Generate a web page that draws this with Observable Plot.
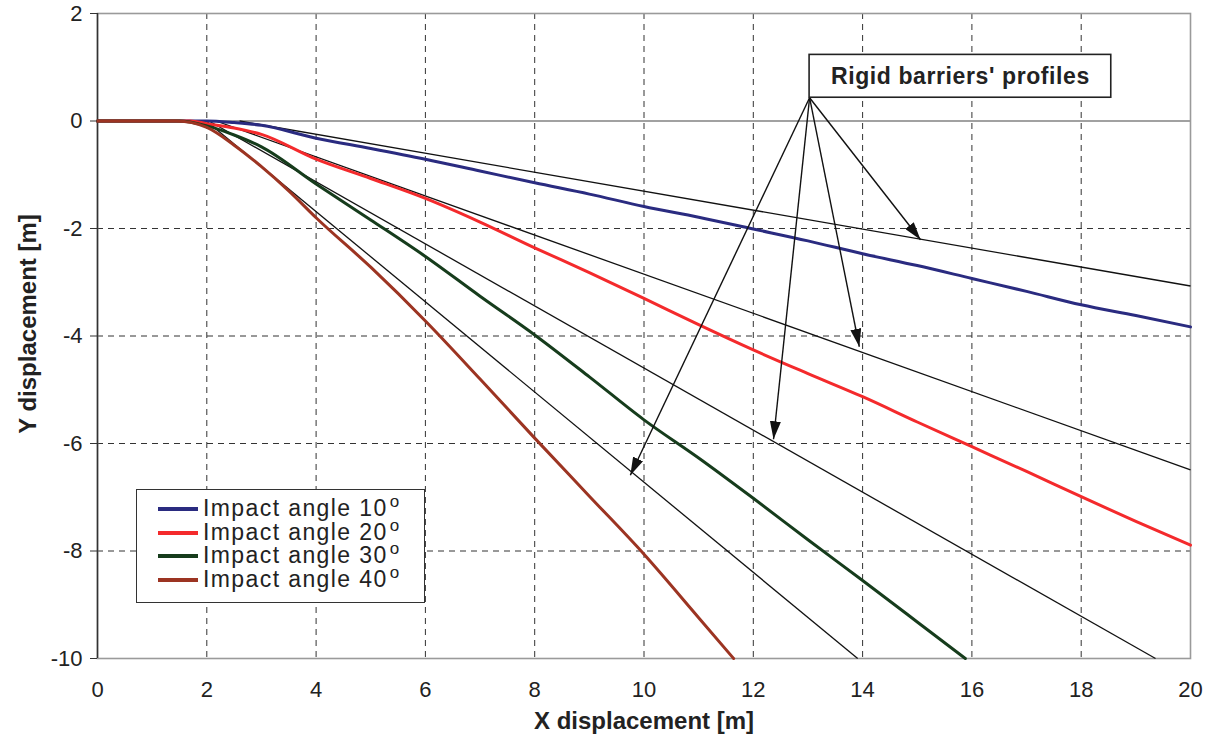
<!DOCTYPE html>
<html>
<head>
<meta charset="utf-8">
<script src="https://cdn.jsdelivr.net/npm/d3@7"></script>
<script src="https://cdn.jsdelivr.net/npm/@observablehq/plot@0.6"></script>
<style>
  body { margin: 0; background: white; }
  #wrap { position: relative; width: 1211px; height: 742px; font-family: "Liberation Sans", Arial, sans-serif; }
  #legend { position: absolute; left: 136px; top: 489px; width: 287px; height: 112px; border: 1.5px solid #333; background: white; }
  .row { position: absolute; left: 0; height: 24px; line-height: 24px; font-size: 23px; letter-spacing: 1.4px; color: #222; white-space: nowrap; }
  .sw { position: absolute; left: 21px; top: 11px; width: 40px; height: 4px; }
  .lbl { position: absolute; left: 66px; top: 0; }
  .deg { display: inline-block; font-size: 17px; transform: translateY(-9px); margin-left: 2px; letter-spacing: 0; }
  svg text.lab { letter-spacing: 1px; }
</style>
</head>
<body>
<div id="wrap"></div>
<script>
// ---- data ----
const legendLabels = ["Impact angle 10", "Impact angle 20", "Impact angle 30", "Impact angle 40"];
const seriesColors = ["#2a2b80", "#f42a2c", "#163c1c", "#9c3422"];

const a10X = [0, 1, 2, 2.5, 3, 4, 5, 6, 7, 8, 9, 10, 11, 12, 13, 14, 15, 16, 17, 18, 19, 20];
const a10Y = [0, 0, 0, -0.03, -0.08, -0.32, -0.51, -0.71, -0.93, -1.15, -1.36, -1.59, -1.79, -2.01, -2.23, -2.47, -2.69, -2.93, -3.17, -3.42, -3.62, -3.83];

const a20X = [0, 1.7, 2, 2.5, 3, 4, 5, 6, 7, 8, 9, 10, 11, 12, 13, 14, 15, 16, 17, 18, 19, 20];
const a20Y = [0, 0, -0.05, -0.13, -0.25, -0.71, -1.07, -1.44, -1.88, -2.36, -2.82, -3.30, -3.79, -4.26, -4.70, -5.13, -5.60, -6.06, -6.52, -6.99, -7.45, -7.89];

const a30X = [0, 1.5, 2, 2.5, 3, 4, 5, 6, 7, 8, 9, 10, 11, 12, 13, 14, 15, 15.88];
const a30Y = [0, 0, -0.09, -0.26, -0.48, -1.17, -1.84, -2.52, -3.26, -3.98, -4.76, -5.56, -6.27, -7.02, -7.79, -8.55, -9.32, -10];

const a40X = [0, 1.45, 2, 2.5, 3, 3.5, 4, 5, 6, 7, 8, 9, 10, 11, 11.64];
const a40Y = [0, 0, -0.12, -0.45, -0.85, -1.3, -1.8, -2.72, -3.72, -4.8, -5.9, -6.98, -8.06, -9.24, -10];

// rigid barrier profiles (straight lines)
const barrierX1 = [2.6, 2.17, 2.04, 1.99];
const barrierY1 = [0, 0, 0, 0];
const barrierX2 = [20, 20, 19.36, 13.91];
const barrierY2 = [-3.07, -6.49, -10, -10];

// annotation
const noteText = "Rigid barriers' profiles";
const noteBoxX = [13.03, 18.55];
const noteBoxY = [0.433, 1.23];
const arrowTipX = [15.06, 13.94, 12.37, 9.75];
const arrowTipY = [-2.21, -4.20, -5.92, -6.59];

const xTicks = [0, 2, 4, 6, 8, 10, 12, 14, 16, 18, 20];
const yTicks = [2, 0, -2, -4, -6, -8, -10];
const xGrid = [2, 4, 6, 8, 10, 12, 14, 16, 18];
const yGrid = [-2, -4, -6, -8];
const xLabel = "X displacement [m]";
const yLabel = "Y displacement [m]";

// ---- build tables ----
const seriesX = [a10X, a20X, a30X, a40X];
const seriesY = [a10Y, a20Y, a30Y, a40Y];
const curves = legendLabels.flatMap((s, i) => seriesX[i].map((x, j) => ({series: s, x, y: seriesY[i][j]})));
const barriers = barrierX1.map((x1, i) => ({x1, y1: barrierY1[i], x2: barrierX2[i], y2: barrierY2[i]}));
const arrows = arrowTipX.map((x, i) => ({x1: noteBoxX[0], y1: noteBoxY[0], x2: x, y2: arrowTipY[i]}));
const note = [{x1: noteBoxX[0], x2: noteBoxX[1], y1: noteBoxY[0], y2: noteBoxY[1], text: noteText}];

const chart = Plot.plot({
  width: 1211,
  height: 742,
  marginTop: 13,
  marginRight: 21,
  marginBottom: 84,
  marginLeft: 97,
  style: {fontFamily: "'Liberation Sans', Arial, sans-serif", fontSize: "22px", color: "#222", background: "white"},
  x: {domain: [0, 20]},
  y: {domain: [-10, 2]},
  color: {domain: legendLabels, range: seriesColors},
  marks: [
    Plot.ruleX(xGrid, {stroke: "#333", strokeWidth: 1, strokeDasharray: "6,5", strokeOpacity: 1}),
    Plot.ruleY(yGrid, {stroke: "#333", strokeWidth: 1, strokeDasharray: "6,5", strokeOpacity: 1}),
    Plot.ruleY([0], {stroke: "#444", strokeWidth: 1.2}),
    Plot.frame({stroke: "#9a9a9a", strokeWidth: 1.6}),
    Plot.ruleX([0], {stroke: "#333", strokeWidth: 1.5}),
    Plot.link(barriers, {x1: "x1", y1: "y1", x2: "x2", y2: "y2", stroke: "#111", strokeWidth: 1.3}),
    Plot.line(curves, {x: "x", y: "y", z: "series", stroke: "series", strokeWidth: 3, strokeLinejoin: "round", curve: "monotone-x"}),
    Plot.link(arrows, {x1: "x1", y1: "y1", x2: "x2", y2: "y2", stroke: "#111", strokeWidth: 1.4, ariaLabel: "note-arrow", ariaDescription: "note-arrows"}),
    Plot.rect(note, {x1: "x1", x2: "x2", y1: "y1", y2: "y2", fill: "white", stroke: "#222", strokeWidth: 1.6}),
    Plot.text(note, {x: d => (d.x1 + d.x2) / 2, y: d => (d.y1 + d.y2) / 2, text: "text", fontWeight: "bold", fontSize: 23, fill: "#222", className: "lab-note"}),
    Plot.axisY(yTicks, {tickSize: 7, tickPadding: 8, label: null, fontSize: 22, stroke: "#333", tickFormat: d => String(d)}),
    Plot.axisX(xTicks, {tickSize: 0, tickPadding: 23, label: null, fontSize: 22, tickFormat: d => String(d)}),
    Plot.text([yLabel], {text: d => d, frameAnchor: "left", dx: -69, dy: -12, rotate: -90, textAnchor: "middle", lineAnchor: "middle", fontWeight: "bold", fontSize: 24, fill: "#222", ariaLabel: "axis-title"}),
    Plot.text([xLabel], {text: d => d, frameAnchor: "bottom", dy: 63, textAnchor: "middle", lineAnchor: "middle", fontWeight: "bold", fontSize: 24, fill: "#222", ariaLabel: "axis-title"})
  ]
});

// letter spacing for bold titles
chart.querySelectorAll('text[aria-label="axis-title"]').forEach(t => t.style.letterSpacing = "1px");
chart.querySelectorAll('[aria-label="axis-title"] text').forEach(t => t.style.letterSpacing = "1px");
chart.querySelectorAll('.lab-note text, text.lab-note').forEach(t => t.style.letterSpacing = "0.6px");

// filled arrowheads for annotation arrows
const ns = "http://www.w3.org/2000/svg";
const defs = document.createElementNS(ns, "defs");
const marker = document.createElementNS(ns, "marker");
marker.setAttribute("id", "ahead");
marker.setAttribute("viewBox", "0 0 18 11");
marker.setAttribute("refX", "18");
marker.setAttribute("refY", "5.5");
marker.setAttribute("markerWidth", "18");
marker.setAttribute("markerHeight", "11");
marker.setAttribute("markerUnits", "userSpaceOnUse");
marker.setAttribute("orient", "auto");
const mp = document.createElementNS(ns, "path");
mp.setAttribute("d", "M0,0 L18,5.5 L0,11 Z");
mp.setAttribute("fill", "#111");
mp.setAttribute("stroke", "none");
marker.appendChild(mp);
defs.appendChild(marker);
chart.insertBefore(defs, chart.firstChild);
const arrowEls = new Set();
chart.querySelectorAll('[aria-label="note-arrow"]').forEach(el => {
  if (el.tagName.toLowerCase() === "path" || el.tagName.toLowerCase() === "line") arrowEls.add(el);
  else el.querySelectorAll("path, line").forEach(p => arrowEls.add(p));
});
chart.querySelectorAll('[aria-description="note-arrows"]').forEach(g => g.querySelectorAll("path, line").forEach(p => arrowEls.add(p)));
arrowEls.forEach(p => p.setAttribute("marker-end", "url(#ahead)"));

const wrap = document.getElementById("wrap");
wrap.appendChild(chart);

// legend overlay
const legend = document.createElement("div");
legend.id = "legend";
legendLabels.forEach((s, i) => {
  const row = document.createElement("div");
  row.className = "row";
  row.style.top = (6 + i * 23.5) + "px";
  row.style.width = "100%";
  const sw = document.createElement("div");
  sw.className = "sw";
  sw.style.background = seriesColors[i];
  const lbl = document.createElement("span");
  lbl.className = "lbl";
  lbl.innerHTML = s + '<span class="deg">o</span>';
  row.appendChild(sw);
  row.appendChild(lbl);
  legend.appendChild(row);
});
wrap.appendChild(legend);
</script>
</body>
</html>
